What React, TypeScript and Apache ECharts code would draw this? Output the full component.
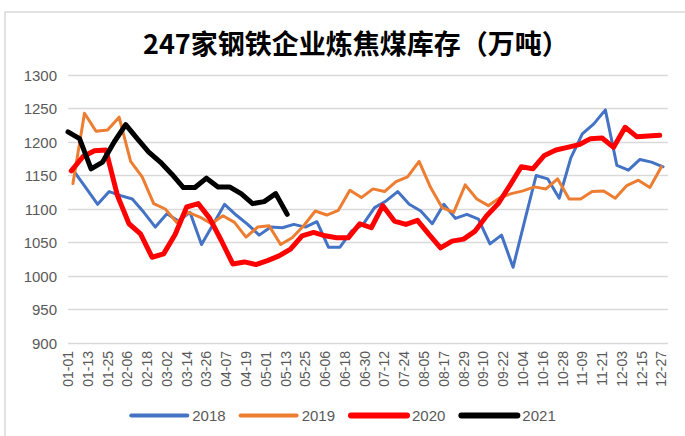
import React, { useEffect, useRef } from "react";
import * as echarts from "echarts";

const titleText = "247家钢铁企业炼焦煤库存（万吨）";
const seriesNames = ["2018", "2019", "2020", "2021"];
const seriesColors = ["#4472C4", "#ED7D31", "#FF0000", "#000000"];
const seriesWidths = [3, 3, 5, 5];
// day-of-year index (0 = 01-01) of each year's first weekly reading
const firstReadingDay = [4, 3, 2, 0];

const monthDays = [31, 28, 31, 30, 31, 30, 31, 31, 30, 31, 30, 31];

const v2018 = [
  1155, 1131, 1107, 1126, 1120, 1115, 1095, 1073, 1093, 1082, 1095, 1047, 1077,
  1107, 1091, 1077, 1061, 1073, 1072, 1077, 1073, 1081, 1043, 1043, 1067, 1077,
  1102, 1112, 1126, 1107, 1097, 1078, 1107, 1086, 1092, 1085, 1048, 1061, 1013,
  1082, 1150, 1145, 1116, 1176, 1212, 1227, 1248, 1165, 1158, 1174, 1170, 1163,
];
const v2019 = [
  1138, 1243, 1216, 1218, 1237, 1171, 1148, 1108, 1100, 1080, 1095, 1088, 1078,
  1090, 1080, 1058, 1073, 1075, 1047, 1057, 1075, 1097, 1091, 1098, 1128, 1117,
  1130, 1126, 1141, 1148, 1171, 1132, 1102, 1095, 1136, 1115, 1105, 1117, 1123,
  1127, 1133, 1130, 1145, 1115, 1115, 1126, 1127, 1116, 1135, 1143, 1132, 1163,
];
const v2020 = [
  1157, 1178, 1187, 1188, 1120, 1078, 1063, 1028, 1033, 1062, 1103, 1108, 1086,
  1053, 1018, 1021, 1017, 1023, 1030, 1040, 1060, 1065, 1060, 1057, 1057, 1078,
  1072, 1105, 1082, 1077, 1083, 1062, 1042, 1052, 1055, 1067, 1090, 1108, 1135,
  1163, 1160, 1180, 1188, 1192, 1196, 1205, 1206, 1192, 1222, 1208, 1209, 1210,
];
const v2021 = [
  1215, 1205, 1160, 1170, 1200, 1226, 1205, 1185, 1170, 1152, 1132, 1132, 1146,
  1133, 1133, 1123, 1108, 1111, 1123, 1092,
];
const seriesValues = [v2018, v2019, v2020, v2021];

const yMin = 900;
const yMax = 1300;
const yInterval = 50;

function buildDays(): string[] {
  const out: string[] = [];
  monthDays.forEach((n, m) => {
    for (let d = 1; d <= n; d++) {
      out.push(String(m + 1).padStart(2, "0") + "-" + String(d).padStart(2, "0"));
    }
  });
  return out;
}

export default function App() {
  const ref = useRef<HTMLDivElement>(null);
  useEffect(() => {
    if (!ref.current) return;
    document.body.style.margin = "0";
    const chart = echarts.init(ref.current, undefined, { renderer: "svg" });
    const days = buildDays();
    const font = "'Liberation Sans', 'Noto Sans CJK SC', sans-serif";
    chart.setOption({
      animation: false,
      backgroundColor: "#ffffff",
      textStyle: { fontFamily: font },
      graphic: [
        {
          type: "rect",
          shape: { x: 5, y: 12, width: 700, height: 440 },
          style: { fill: "none", stroke: "#d9d9d9", lineWidth: 1.5 },
          silent: true,
        },
      ],
      title: {
        text: titleText,
        left: 138,
        top: 24,
        textStyle: {
          fontFamily: "'Noto Sans CJK SC', sans-serif",
          fontSize: 27,
          fontWeight: "bold",
          color: "#000000",
        },
      },
      grid: { left: 68, right: 17, top: 75, height: 268 },
      legend: {
        left: "center",
        top: 403,
        itemWidth: 56,
        itemHeight: 12,
        itemGap: 13,
        itemStyle: { opacity: 0 },
        textStyle: { color: "#595959", fontSize: 15, fontFamily: font },
        data: seriesNames.map((name, k) => ({
          name,
          lineStyle: { width: seriesWidths[k] + 1, cap: "round", color: seriesColors[k] },
        })),
      },
      xAxis: {
        type: "category",
        data: days,
        boundaryGap: false,
        axisLine: { show: false },
        axisTick: { show: false },
        splitLine: { show: false },
        axisLabel: {
          interval: 11,
          rotate: 90,
          color: "#595959",
          fontSize: 14,
          margin: 8,
          fontFamily: font,
        },
      },
      yAxis: {
        type: "value",
        min: yMin,
        max: yMax,
        interval: yInterval,
        axisLine: { show: false },
        axisTick: { show: false },
        axisLabel: {
          color: "#595959",
          fontSize: 15,
          margin: 11,
          fontFamily: font,
          formatter: (v: number) => String(v),
        },
        splitLine: { lineStyle: { color: "#d9d9d9", width: 1.3 } },
      },
      series: seriesNames.map((name, k) => ({
        name,
        type: "line",
        symbol: "none",
        color: seriesColors[k],
        lineStyle: {
          color: seriesColors[k],
          width: seriesWidths[k],
          cap: "round",
          join: "round",
        },
        data: seriesValues[k].map((v, i) => [firstReadingDay[k] + 7 * i, v]),
      })),
    });
    return () => chart.dispose();
  }, []);
  return <div ref={ref} style={{ width: 685, height: 436 }} />;
}
